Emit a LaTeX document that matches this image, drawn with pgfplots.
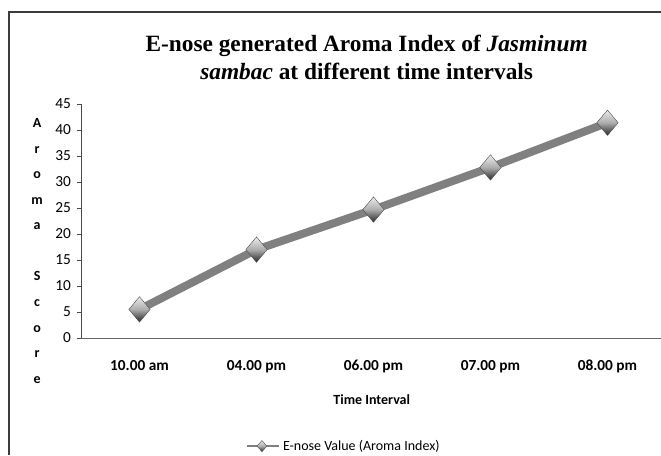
\documentclass[border=0pt]{standalone}
\usepackage{pgfplots}
\pgfplotsset{compat=1.18}
\usepackage{fontspec}
\setmainfont{Carlito}
\newfontfamily\titlefont{Liberation Serif}

\definecolor{linegray}{RGB}{128,128,128}
\definecolor{framegray}{RGB}{60,60,60}

% vertical grey shading for the diamond markers (dark bottom, light top)
\pgfdeclareverticalshading{diamondshade}{100bp}{%
  color(0bp)=(black!85); color(25bp)=(black!85); color(50bp)=(gray!65);
  color(75bp)=(gray!15); color(100bp)=(gray!15)}

% shaded diamond used for the data points
\pgfdeclareplotmark{shadeddiamond}{%
  \pgfpathmoveto{\pgfqpoint{0pt}{9.5pt}}%
  \pgfpathlineto{\pgfqpoint{8pt}{0pt}}%
  \pgfpathlineto{\pgfqpoint{0pt}{-9.5pt}}%
  \pgfpathlineto{\pgfqpoint{-8pt}{0pt}}%
  \pgfpathclose
  \pgfshadepath{diamondshade}{0}%
  \pgfsetstrokecolor{black!70}%
  \pgfsetlinewidth{0.3pt}%
  \pgfusepath{stroke}%
}
% smaller diamond for the legend entry
\pgfdeclareplotmark{shadeddiamondsmall}{%
  \pgfpathmoveto{\pgfqpoint{0pt}{4.2pt}}%
  \pgfpathlineto{\pgfqpoint{3.6pt}{0pt}}%
  \pgfpathlineto{\pgfqpoint{0pt}{-4.2pt}}%
  \pgfpathlineto{\pgfqpoint{-3.6pt}{0pt}}%
  \pgfpathclose
  \pgfshadepath{diamondshade}{0}%
  \pgfsetstrokecolor{black!70}%
  \pgfsetlinewidth{0.3pt}%
  \pgfusepath{stroke}%
}

\begin{document}
\begin{tikzpicture}
% page size 495.75pt x 341.25pt, origin bottom left
\useasboundingbox (0,0) rectangle (495.75pt,341.25pt);
% chart frame (top and left edges)
\draw[framegray, line width=1.1pt] (6.75pt,0) -- (6.75pt,332.25pt) -- (510pt,332.25pt);

% title
\node[align=center, font={\titlefont\fontsize{17.5pt}{21pt}\selectfont\bfseries}]
  at (275pt,298.5pt) {E-nose generated Aroma Index of \textit{Jasminum}\\
  \textit{sambac} at different time intervals};

\begin{axis}[
  at={(60.75pt,87.75pt)}, anchor=south west,
  scale only axis,
  width=438.75pt, height=175.5pt,
  xmin=-0.5, xmax=4.5,
  ymin=0, ymax=45,
  ytick={0,5,...,45},
  xtick={0,1,2,3,4},
  xticklabels={10.00 am,04.00 pm,06.00 pm,07.00 pm,08.00 pm},
  axis x line=bottom, axis y line=left,
  axis line style={-, black!70, line width=0.6pt},
  x axis line style={black!60},
  xtick style={draw=none},
  ytick style={black!70, line width=0.6pt},
  tick align=outside,
  major tick length=3pt,
  yticklabel style={font=\fontsize{11.5pt}{13pt}\selectfont, xshift=-1pt},
  xticklabel style={font=\fontsize{11.5pt}{13pt}\selectfont\bfseries, yshift=-10pt},
  /pgf/number format/assume math mode=true,
  xlabel={Time Interval},
  xlabel style={at={(axis description cs:0.497,-0.265)}, anchor=center,
                font=\fontsize{10.5pt}{12pt}\selectfont\bfseries},
  ylabel={A\\r\\o\\m\\a\\[19pt]S\\c\\o\\r\\e},
  ylabel style={rotate=-90, at={(axis description cs:-0.075,0.372)},
                anchor=center, align=center,
                font=\fontsize{10.5pt}{19.2pt}\selectfont\bfseries},
  legend style={at={(axis description cs:0.450,-0.462)}, anchor=center,
                draw=none, fill=none,
                font=\fontsize{10.5pt}{12pt}\selectfont,
                inner sep=0pt},
  legend image code/.code={%
    \draw[draw=linegray, line width=1.6pt] (0pt,0pt) -- (24pt,0pt);
    \pgftransformshift{\pgfqpoint{11pt}{0pt}}%
    \pgfuseplotmark{shadeddiamondsmall}%
  },
  clip=false,
]
\addplot[linegray, line width=6pt, mark=shadeddiamond]
  coordinates {(0,5.5) (1,17.0) (2,24.7) (3,32.8) (4,41.4)};
\addlegendentry{E-nose Value (Aroma Index)}
\end{axis}
\end{tikzpicture}
\end{document}
